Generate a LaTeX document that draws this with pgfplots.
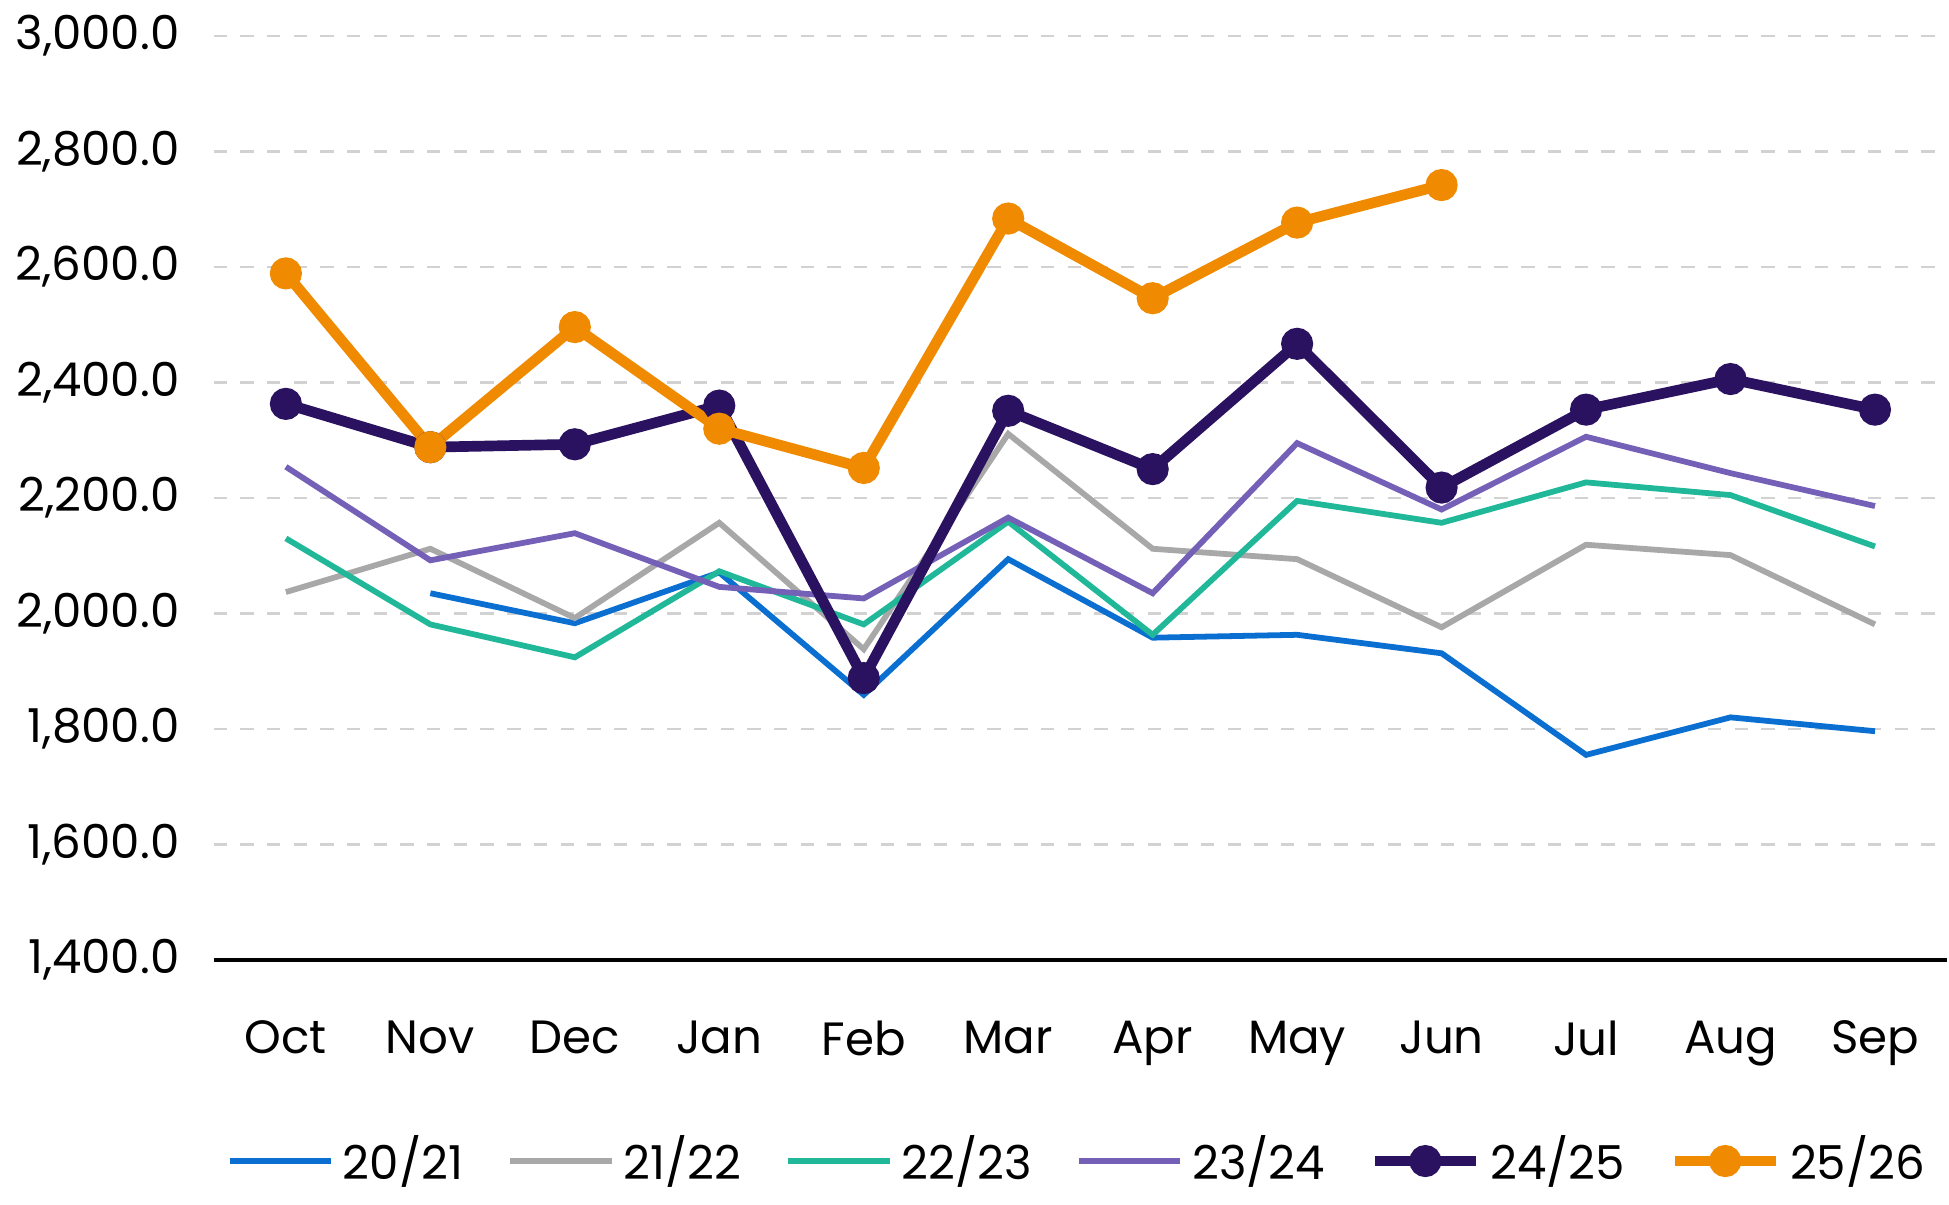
\documentclass[border=0pt]{standalone}
\usepackage{pgfplots}
\pgfplotsset{compat=1.18}
\usepackage{fontspec}
\setmainfont{Poppins}
\definecolor{c1}{HTML}{0A6FD0}
\definecolor{c2}{HTML}{A8A8A8}
\definecolor{c3}{HTML}{20B898}
\definecolor{c4}{HTML}{7560B8}
\definecolor{c5}{HTML}{2A1260}
\definecolor{c6}{HTML}{F08A00}
\begin{document}
\fontsize{10.5}{12}\selectfont
\begin{tikzpicture}
\begin{axis}[
 scale only axis, width=13.7cm, height=7.3cm,
 xmin=-0.5, xmax=11.5, ymin=1400, ymax=3000,
 xtick={0,...,11}, xticklabels={Oct,Nov,Dec,Jan,Feb,Mar,Apr,May,Jun,Jul,Aug,Sep},
 ytick={1400,1600,...,3000},
 yticklabel style={xshift=-4pt,/pgf/number format/.cd,fixed,fixed zerofill,precision=1,1000 sep={,},assume math mode=true},
 ymajorgrids, grid style={dashed, gray!35, line width=0.6pt},
 axis line style={draw=none},
 tick style={draw=none},
 xticklabel style={yshift=-10pt},
 every tick label/.append style={font=\fontsize{10.5}{12}\selectfont},
 legend style={at={(0.5,-0.17)}, anchor=north, draw=none, legend columns=-1, font=\fontsize{10.5}{12}\selectfont, /tikz/every even column/.append style={column sep=8pt}},
 legend image code/.code={\draw[#1] (0cm,0cm) -- (0.8cm,0cm); \draw[#1,only marks] plot coordinates {(0.4cm,0cm)};},
 clip=false,
]
\draw[black, line width=0.8pt] (axis cs:-0.5,1400) -- (axis cs:11.5,1400);
\addplot[c1, line width=1.3pt] coordinates {(1,2035)(2,1983)(3,2071)(4,1859)(5,2094)(6,1958)(7,1963)(8,1931)(9,1755)(10,1820)(11,1796)};
\addplot[c2, line width=1.3pt] coordinates {(0,2037)(1,2112)(2,1992)(3,2157)(4,1938)(5,2311)(6,2112)(7,2094)(8,1976)(9,2119)(10,2101)(11,1981)};
\addplot[c3, line width=1.3pt] coordinates {(0,2130)(1,1981)(2,1924)(3,2073)(4,1981)(5,2159)(6,1963)(7,2195)(8,2157)(9,2227)(10,2205)(11,2116)};
\addplot[c4, line width=1.3pt] coordinates {(0,2254)(1,2092)(2,2139)(3,2046)(4,2026)(5,2166)(6,2035)(7,2295)(8,2180)(9,2306)(10,2243)(11,2186)};
\addplot[c5, line width=2.4pt, mark=*, mark size=2.4pt] coordinates {(0,2363)(1,2288)(2,2293)(3,2360)(4,1888)(5,2351)(6,2250)(7,2467)(8,2218)(9,2353)(10,2406)(11,2353)};
\addplot[c6, line width=2.4pt, mark=*, mark size=2.4pt] coordinates {(0,2589)(1,2288)(2,2496)(3,2320)(4,2252)(5,2684)(6,2546)(7,2677)(8,2742)};
\legend{20/21,21/22,22/23,23/24,24/25,25/26}
\end{axis}
\end{tikzpicture}
\end{document}
